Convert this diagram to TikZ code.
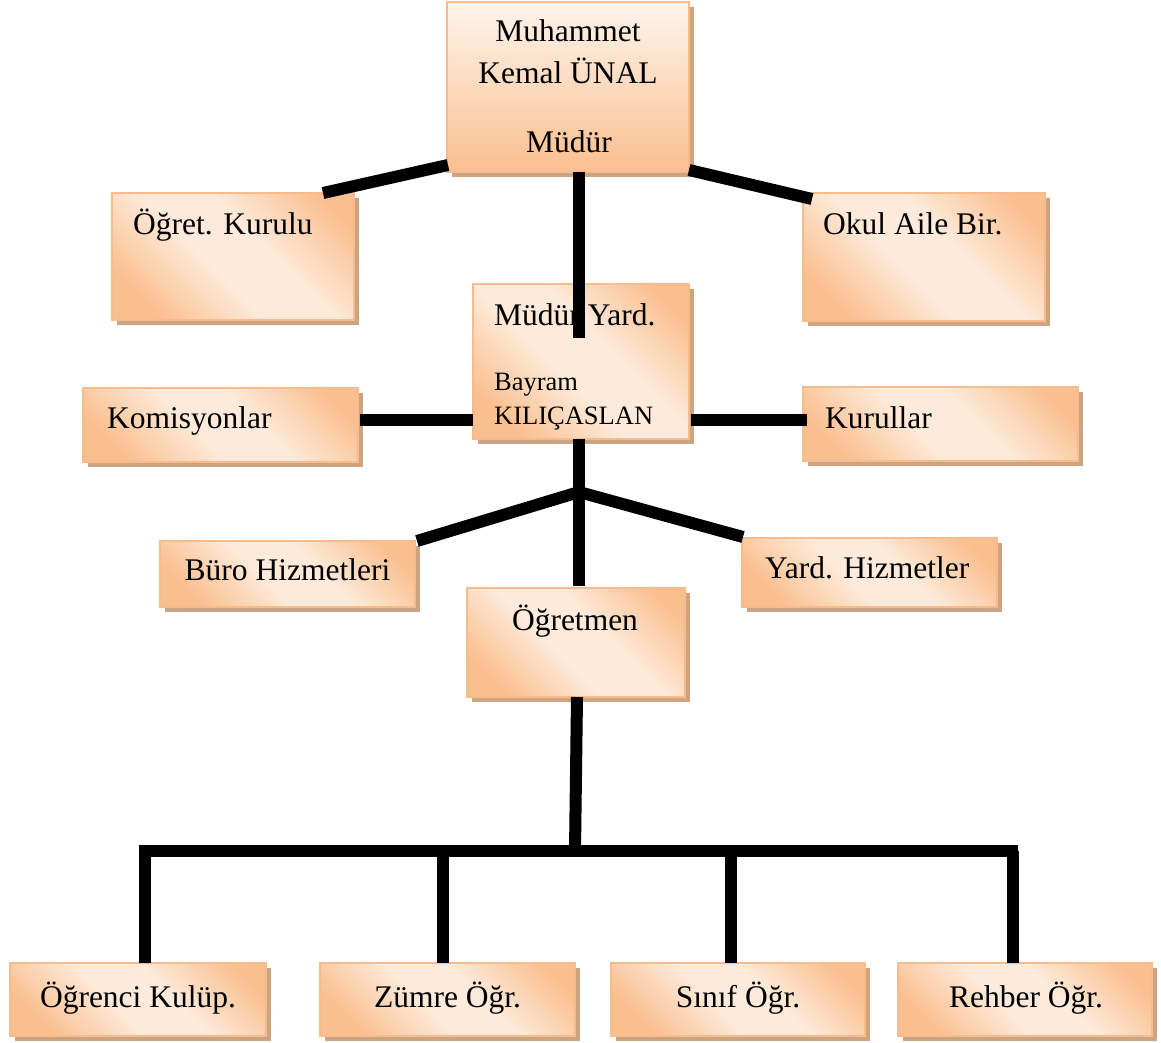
\documentclass[tikz,border=0pt]{standalone}
\usepackage{fontspec}
\setmainfont{Liberation Serif}
\usetikzlibrary{shadows}
\definecolor{pk}{RGB}{250,191,143}
\definecolor{pl}{RGB}{253,234,218}
\definecolor{boxedge}{RGB}{248,188,140}
\definecolor{shadowc}{RGB}{204,164,130}
\pgfdeclarehorizontalshading{peach}{100bp}{color(0bp)=(pk); color(24bp)=(pk); color(44bp)=(pl); color(58bp)=(pl); color(78bp)=(pk); color(100bp)=(pk)}
\begin{document}
\begin{tikzpicture}[x=1pt,y=-1pt,
  boxbase/.style={rectangle, inner sep=0pt, draw=boxedge, line width=1.5pt,
    drop shadow={shadow xshift=4.5pt, shadow yshift=-5pt, fill=shadowc, opacity=1}},
  box/.style={boxbase, shading=peach, shading angle=45},
  topbox/.style={boxbase, top color=pl!50!white, bottom color=pk},
  big/.style={font=\fontsize{31.5}{36}\selectfont, inner sep=0pt},
  small/.style={font=\fontsize{26.5}{30}\selectfont, inner sep=0pt},
  link/.style={line width=12pt, black},
]
\useasboundingbox (0,0) rectangle (1161,1042);
% boxes
\node[topbox, minimum width=242pt, minimum height=170pt] (mudur) at (568,87) {};
\node[box, minimum width=242pt, minimum height=127pt] (ogret) at (233,256.5) {};
\node[box, minimum width=242pt, minimum height=128pt] (okul) at (924,257) {};
\node[box, minimum width=216pt, minimum height=155pt] (yard) at (581,361.5) {};
\node[box, minimum width=275pt, minimum height=74pt] (komis) at (220.5,425) {};
\node[box, minimum width=275pt, minimum height=74pt] (kurul) at (940.5,424) {};
\node[box, minimum width=255pt, minimum height=66pt] (buro) at (287.5,574) {};
\node[box, minimum width=255pt, minimum height=69pt] (yhiz) at (869.5,572.5) {};
\node[box, minimum width=218pt, minimum height=109pt] (ogretmen) at (576,642.5) {};
\node[box, minimum width=256pt, minimum height=73pt] (ogrenci) at (138,999.5) {};
\node[box, minimum width=255pt, minimum height=73pt] (zumre) at (447.5,999.5) {};
\node[box, minimum width=254pt, minimum height=73pt] (sinif) at (738,999.5) {};
\node[box, minimum width=254pt, minimum height=73pt] (rehber) at (1025,999.5) {};
% texts
\node[big, anchor=base] (t1) at (568,41) {Muhammet};
\node[big, anchor=base] (t2) at (568,83) {Kemal ÜNAL};
\node[big, anchor=base] (t3) at (569,152) {Müdür};
\node[big, anchor=base west] (t4) at (133,234) {Öğret. Kurulu};
\node[big, anchor=base west] (t5) at (823,234) {Okul Aile Bir.};
\node[big, anchor=base west] (t6) at (494,325) {Müdür Yard.};
\node[small, anchor=base west] (t7) at (494,390) {Bayram};
\node[small, anchor=base west] (t8) at (494,424) {KILIÇASLAN};
\node[big, anchor=base west] (t9) at (107,428) {Komisyonlar};
\node[big, anchor=base west] (t10) at (825,428) {Kurullar};
\node[big, anchor=base] (t11) at (287.5,580) {Büro Hizmetleri};
\node[big, anchor=base west] (t12) at (765,578) {Yard. Hizmetler};
\node[big, anchor=base] (t13) at (575,630) {Öğretmen};
\node[big, anchor=base] (t14) at (138,1007) {Öğrenci Kulüp.};
\node[big, anchor=base] (t15) at (447.5,1007) {Zümre Öğr.};
\node[big, anchor=base] (t16) at (738,1007) {Sınıf Öğr.};
\node[big, anchor=base] (t17) at (1026,1007) {Rehber Öğr.};
% connector points
\coordinate (a1) at (448,165); \coordinate (a2) at (323,193);
\coordinate (b1) at (689,170); \coordinate (b2) at (812,199);
\coordinate (c1) at (579,172); \coordinate (c2) at (579,338);
\coordinate (d1) at (473,420); \coordinate (d2) at (360,420);
\coordinate (e1) at (691,420); \coordinate (e2) at (807,420);
\coordinate (f1) at (579,439); \coordinate (f2) at (579,586);
\coordinate (br) at (579,492);
\coordinate (g2) at (417,541); \coordinate (h2) at (743,537);
\coordinate (i1) at (577,697); \coordinate (i2) at (575,851);
\coordinate (jl) at (145,963); \coordinate (jc) at (145,851); \coordinate (jr) at (1018,851);
\coordinate (k1) at (443,851); \coordinate (k2) at (443,963);
\coordinate (l1) at (731,851); \coordinate (l2) at (731,963);
\coordinate (m1) at (1013,851); \coordinate (m2) at (1013,963);
% connectors
\draw[link] (a1) -- (a2);
\draw[link] (b1) -- (b2);
\draw[link] (c1) -- (c2);
\draw[link] (d1) -- (d2);
\draw[link] (e1) -- (e2);
\draw[link] (f1) -- (f2);
\draw[link] (br) -- (g2);
\draw[link] (br) -- (h2);
\draw[link] (i1) -- (i2);
\draw[link, line join=miter] (jl) -- (jc) -- (jr);
\draw[link] (k1) -- (k2);
\draw[link] (l1) -- (l2);
\draw[link] (m1) -- (m2);
\end{tikzpicture}
\end{document}
